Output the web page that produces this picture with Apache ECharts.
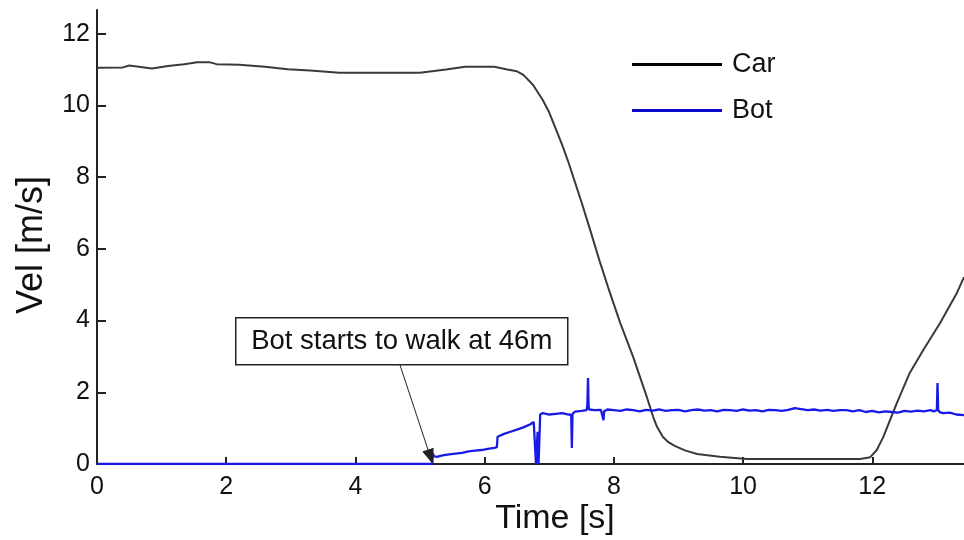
<!DOCTYPE html>
<html>
<head>
<meta charset="utf-8">
<script src="https://cdn.jsdelivr.net/npm/echarts@6/dist/echarts.min.js"></script>
<style>
  html, body { margin: 0; padding: 0; background: #fff; }
  #chart { width: 964px; height: 540px; }
</style>
</head>
<body>
<div id="chart"></div>
<script>
// Axis ticks
const xTicks = [0, 2, 4, 6, 8, 10, 12];
const yTicks = [0, 2, 4, 6, 8, 10, 12];

// Car velocity [m/s] over time [s]
const carTime = [0, 0.4, 0.5, 0.85, 1.1, 1.35, 1.55, 1.75, 1.85, 2.2, 2.6, 2.95, 3.3, 3.75, 5.0,
  5.4, 5.7, 6.15, 6.35, 6.5, 6.6, 6.75, 6.9, 7.0, 7.1, 7.2, 7.3, 7.4, 7.5, 7.63, 7.79, 7.94, 8.1, 8.3,
  8.51, 8.61, 8.67, 8.76, 8.85, 8.95, 9.1, 9.29, 9.64, 10.06, 11.81, 11.97, 12.07, 12.17, 12.38, 12.58,
  12.79, 13.05, 13.31, 13.42];
const carVel = [11.05, 11.06, 11.11, 11.03, 11.1, 11.15, 11.2, 11.2, 11.15, 11.13, 11.08, 11.01, 10.97, 10.91, 10.91,
  11.0, 11.08, 11.08, 11.0, 10.95, 10.85, 10.57, 10.15, 9.8, 9.35, 8.9, 8.4, 7.85, 7.3, 6.55, 5.6, 4.77, 3.93, 2.98,
  1.87, 1.31, 1.03, 0.75, 0.6, 0.5, 0.38, 0.28, 0.2, 0.14, 0.14, 0.19, 0.39, 0.75, 1.7, 2.54,
  3.18, 3.93, 4.77, 5.21];

// Bot velocity [m/s] over time [s]
const botTime = [0, 5.19, 5.2, 5.21, 5.23, 5.26, 5.35, 5.45, 5.55, 5.65, 5.75, 5.85, 5.95, 6.05, 6.15,
  6.19, 6.2, 6.22, 6.3, 6.4, 6.5, 6.6, 6.7, 6.76, 6.78, 6.795, 6.81, 6.82, 6.835, 6.85, 6.86,
  6.9, 7.0, 7.1, 7.2, 7.3, 7.34, 7.35, 7.36, 7.4, 7.5, 7.58, 7.59, 7.6, 7.61, 7.62, 7.7, 7.8,
  7.83, 7.84, 7.85, 7.9,
  8.0, 8.1, 8.2, 8.3, 8.4, 8.5, 8.6, 8.7, 8.8, 8.9, 9.0, 9.1, 9.2, 9.3, 9.4, 9.5, 9.6, 9.7, 9.8, 9.9,
  10.0, 10.1, 10.2, 10.3, 10.4, 10.5, 10.6, 10.7, 10.8, 10.9, 11.0, 11.1, 11.2, 11.3, 11.4, 11.5,
  11.6, 11.7, 11.8, 11.9, 12.0, 12.1, 12.2, 12.3, 12.4, 12.5, 12.6, 12.7, 12.8, 12.9, 12.95,
  13.0, 13.01, 13.02, 13.05, 13.1, 13.2, 13.3, 13.42];
const botVel = [0, 0, 0.3, 0.22, 0.26, 0.2, 0.24, 0.27, 0.29, 0.31, 0.35, 0.37, 0.39, 0.42, 0.45,
  0.47, 0.76, 0.8, 0.84, 0.9, 0.96, 1.02, 1.1, 1.17, 1.12, 0, 0, 0.9, 0, 0, 1.38,
  1.42, 1.38, 1.4, 1.42, 1.38, 1.37, 0.45, 1.4, 1.46, 1.48, 1.5, 1.65, 2.4, 1.6, 1.52, 1.5, 1.51,
  1.48, 1.22, 1.47, 1.52,
  1.5, 1.48, 1.52, 1.5, 1.47, 1.51, 1.49, 1.52, 1.48, 1.5, 1.51, 1.47, 1.5, 1.52, 1.49, 1.5, 1.47, 1.51, 1.5, 1.48,
  1.52, 1.49, 1.5, 1.47, 1.51, 1.5, 1.48, 1.51, 1.56, 1.53, 1.5, 1.52, 1.49, 1.51, 1.48, 1.5,
  1.5, 1.47, 1.5, 1.45, 1.48, 1.44, 1.47, 1.45, 1.43, 1.48, 1.46, 1.49, 1.47, 1.5, 1.47,
  1.5, 2.26, 1.5, 1.44, 1.42, 1.43, 1.38, 1.36];

// Annotation arrow: tail under the text box, head at the start of the walk
const arrowFrom = [4.69, 2.76];
const arrowTo = [5.16, 0.2];

const zip = (a, b) => a.map((t, i) => [t, b[i]]);

const FONT = '"Liberation Sans", Arial, sans-serif';
const chart = echarts.init(document.getElementById('chart'));

chart.setOption({
  animation: false,
  backgroundColor: '#fff',
  grid: { left: 97, right: 0, top: 10, bottom: 76, containLabel: false, outerBoundsMode: 'none' },
  legend: {
    orient: 'vertical',
    left: 632,
    top: 51,
    padding: 0,
    itemWidth: 90,
    itemHeight: 3,
    itemGap: 19,
    icon: 'rect',
    textStyle: { fontFamily: FONT, fontSize: 27, color: '#111', padding: [0, 0, 0, 5] },
    data: [
      { name: 'Car', itemStyle: { color: '#000' } },
      { name: 'Bot', itemStyle: { color: '#0a0ac8' } }
    ]
  },
  xAxis: {
    type: 'value',
    min: 0,
    max: 13.42,
    interval: 2,
    axisLine: { lineStyle: { color: '#222', width: 2 } },
    axisTick: { inside: true, length: 7, lineStyle: { color: '#222', width: 2 }, customValues: xTicks },
    axisLabel: { customValues: xTicks, fontFamily: FONT, fontSize: 25, color: '#111', margin: 11 },
    splitLine: { show: false }
  },
  yAxis: {
    type: 'value',
    min: 0,
    max: 12.66,
    interval: 2,
    axisLine: { show: true, lineStyle: { color: '#222', width: 2 } },
    axisTick: { show: true, inside: true, length: 9, lineStyle: { color: '#222', width: 2 }, customValues: yTicks },
    axisLabel: { customValues: yTicks, fontFamily: FONT, fontSize: 25, color: '#111', margin: 7 },
    splitLine: { show: false }
  },
  series: [
    {
      name: 'Car',
      type: 'line',
      data: zip(carTime, carVel),
      showSymbol: false,
      symbol: 'none',
      smooth: false,
      clip: true,
      lineStyle: { color: '#3a3a3a', width: 2 },
      itemStyle: { color: '#000' },
      z: 3
    },
    {
      name: 'Bot',
      type: 'line',
      data: zip(botTime, botVel),
      showSymbol: false,
      symbol: 'none',
      clip: true,
      lineStyle: { color: '#1a1ae6', width: 2.3 },
      itemStyle: { color: '#0a0ac8' },
      z: 4,
      markLine: {
        silent: true,
        symbol: ['none', 'triangle'],
        symbolSize: [12, 15],
        label: { show: false },
        lineStyle: { color: '#222', width: 1, type: 'solid' },
        data: [[{ coord: arrowFrom }, { coord: arrowTo }]]
      }
    }
  ],
  graphic: [
    {
      type: 'text',
      x: 32, y: 245,
      rotation: Math.PI / 2,
      style: { text: 'Vel [m/s]', fontFamily: FONT, fontSize: 36, fill: '#111', textAlign: 'center', textVerticalAlign: 'middle' }
    },
    {
      type: 'text',
      x: 555, y: 519,
      style: { text: 'Time [s]', fontFamily: FONT, fontSize: 34, fill: '#111', textAlign: 'center', textVerticalAlign: 'middle' }
    },
    {
      type: 'group',
      left: 235, top: 317,
      z: 10,
      children: [
        { type: 'rect', shape: { x: 0, y: 0, width: 332, height: 47 }, style: { fill: '#fff', stroke: '#222', lineWidth: 1.5 } },
        { type: 'text', x: 166, y: 24, style: { text: 'Bot starts to walk at 46m', fontFamily: FONT, fontSize: 27.5, fill: '#111', textAlign: 'center', textVerticalAlign: 'middle' } }
      ]
    }
  ]
});
</script>
</body>
</html>
